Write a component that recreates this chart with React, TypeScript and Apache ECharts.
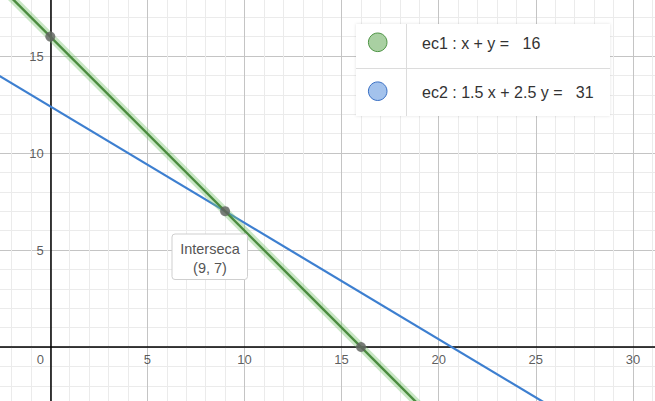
import React, { useEffect, useRef } from "react";
import * as echarts from "echarts";

// Axis ranges and tick labels
const xRange = [-5, 35];
const yRange = [-5, 20];
const xTickLabels = [0, 5, 10, 15, 20, 25, 30];
const yTickLabels = [5, 10, 15];

// Line endpoints (ec1: x + y = 16, ec2: 1.5x + 2.5y = 31)
const ec1Points = [
  [-4, 20],
  [21, -5],
];
const ec2Points = [
  [-5, 15.4],
  [29, -5],
];
// Marked points
const markedPoints = [
  [0, 16],
  [9, 7],
  [16, 0],
];
const legendLabels = ["ec1 : x + y =   16", "ec2 : 1.5 x + 2.5 y =   31"];
const intersectLabel = ["Interseca", "(9, 7)"];

export default function App() {
  const ref = useRef<HTMLDivElement>(null);
  useEffect(() => {
    document.body.style.margin = "0";
    if (!ref.current) return;
    const chart = echarts.init(ref.current, undefined, { renderer: "svg" });
    const font = "Liberation Sans, Arial, sans-serif";
    const gridColors = ["#c4c4c4", "#ebebeb", "#ebebeb", "#ebebeb", "#ebebeb"];
    const tickLabelStyle = {
      show: true,
      color: "#333",
      fontFamily: font,
      fontSize: 13,
    };
    const option: any = {
      animation: false,
      backgroundColor: "#ffffff",
      grid: {
        left: -46.8,
        right: -75,
        top: -41,
        bottom: -43,
        containLabel: false,
        outerBoundsMode: "none",
      },
      xAxis: {
        type: "value",
        position: "bottom",
        min: xRange[0],
        max: xRange[1],
        interval: 1,
        axisLine: { show: true, onZero: true, lineStyle: { color: "#000", width: 1.5 } },
        axisTick: { show: false },
        splitLine: { show: true, lineStyle: { color: gridColors, width: 1 } },
        axisLabel: { show: false },
      },
      yAxis: {
        type: "value",
        position: "left",
        min: yRange[0],
        max: yRange[1],
        interval: 1,
        axisLine: { show: true, onZero: true, lineStyle: { color: "#000", width: 1.5 } },
        axisTick: { show: false },
        splitLine: { show: true, lineStyle: { color: gridColors, width: 1 } },
        axisLabel: { show: false },
      },
      series: [
        {
          type: "line",
          data: ec2Points,
          symbol: "none",
          lineStyle: { color: "#3d7fd0", width: 2.2 },
          z: 3,
        },
        {
          type: "line",
          data: ec1Points,
          symbol: "none",
          lineStyle: { color: "rgba(120,195,110,0.4)", width: 8 },
          z: 4,
        },
        {
          type: "line",
          data: ec1Points,
          symbol: "none",
          lineStyle: { color: "#4b8c3f", width: 2.4 },
          z: 5,
        },
        {
          type: "scatter",
          data: markedPoints,
          symbolSize: 10,
          itemStyle: { color: "#616161" },
          z: 6,
        },
        {
          type: "scatter",
          silent: true,
          data: xTickLabels.map((v) => ({
            value: [v, 0],
            label: v === 0 ? { offset: [-10, 0] } : {},
          })),
          symbolSize: 1,
          itemStyle: { color: "rgba(0,0,0,0)" },
          label: {
            ...tickLabelStyle,
            position: "bottom",
            distance: 5,
            formatter: (p: any) => String(p.value[0]),
          },
          z: 2,
        },
        {
          type: "scatter",
          silent: true,
          data: yTickLabels.map((v) => [0, v]),
          symbolSize: 1,
          itemStyle: { color: "rgba(0,0,0,0)" },
          label: {
            ...tickLabelStyle,
            position: "left",
            distance: 6,
            formatter: (p: any) => String(p.value[1]),
          },
          z: 2,
        },
      ],
      graphic: [
        {
          type: "rect",
          shape: { x: 356, y: 24, width: 254, height: 92 },
          style: { fill: "#fff", shadowBlur: 3, shadowColor: "rgba(0,0,0,0.12)" },
          z: 100,
        },
        {
          type: "line",
          shape: { x1: 356, y1: 68.5, x2: 610, y2: 68.5 },
          style: { stroke: "#dcdcdc", lineWidth: 1 },
          z: 101,
        },
        {
          type: "line",
          shape: { x1: 406.5, y1: 24, x2: 406.5, y2: 116 },
          style: { stroke: "#dcdcdc", lineWidth: 1 },
          z: 101,
        },
        {
          type: "circle",
          shape: { cx: 377.7, cy: 42.3, r: 9.3 },
          style: { fill: "#a9d0a2", stroke: "#4f9546", lineWidth: 1 },
          z: 102,
        },
        {
          type: "circle",
          shape: { cx: 377.7, cy: 91.2, r: 9.3 },
          style: { fill: "#a3c2ec", stroke: "#3a70c4", lineWidth: 1 },
          z: 102,
        },
        {
          type: "text",
          x: 422,
          y: 43.5,
          style: {
            text: legendLabels[0],
            fill: "#333",
            font: `16px ${font}`,
            textVerticalAlign: "middle",
          },
          z: 102,
        },
        {
          type: "text",
          x: 422,
          y: 92.5,
          style: {
            text: legendLabels[1],
            fill: "#333",
            font: `16px ${font}`,
            textVerticalAlign: "middle",
          },
          z: 102,
        },
        {
          type: "rect",
          shape: { x: 172, y: 234, width: 75.5, height: 45.5, r: 3 },
          style: { fill: "#fff", stroke: "#cfcfcf", lineWidth: 1 },
          z: 100,
        },
        {
          type: "text",
          x: 210,
          y: 248.5,
          style: {
            text: intersectLabel[0],
            fill: "#555",
            font: `14.5px ${font}`,
            textAlign: "center",
            textVerticalAlign: "middle",
          },
          z: 101,
        },
        {
          type: "text",
          x: 210,
          y: 267.5,
          style: {
            text: intersectLabel[1],
            fill: "#555",
            font: `14.5px ${font}`,
            textAlign: "center",
            textVerticalAlign: "middle",
          },
          z: 101,
        },
      ],
    };
    chart.setOption(option);
    return () => chart.dispose();
  }, []);
  return <div ref={ref} style={{ width: 655, height: 401 }} />;
}
